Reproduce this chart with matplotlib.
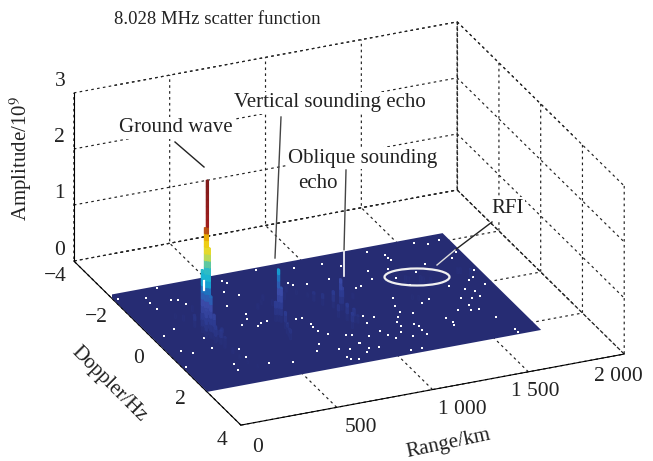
import numpy as np
import matplotlib
matplotlib.use('Agg')
import matplotlib.pyplot as plt
from matplotlib.colors import LinearSegmentedColormap
from matplotlib.lines import Line2D
from matplotlib.patches import Ellipse
from mpl_toolkits.mplot3d import proj3d

plt.rcParams['font.family'] = ['Liberation Serif', 'DejaVu Serif']
plt.rcParams['mathtext.fontset'] = 'stix'

# Ejes
range_ticks = [0, 500, 1000, 1500, 2000]
range_labels = ['0', '500', '1 000', '1 500', '2 000']
doppler_ticks = [-4, -2, 0, 2, 4]
doppler_labels = ['\u22124', '\u22122', '0', '2', '4']
amp_ticks = [0, 1, 2, 3]

# Extension de la superficie
surf_range = [2, 1743]
surf_doppler = [-2.34, 2.38]

# Picos: rango, doppler, amplitud
col_range = [253, 245, 260, 240, 262, 248, 252, 247, 234, 259, 252, 269,
             184, 209, 290, 289, 274, 295, 269, 280, 285, 295, 300, 325,
             230, 245, 262, 278, 310, 265, 285,
             624, 632, 622, 612, 607, 595, 602,
             623, 587, 648, 668, 823, 789, 859, 749, 708,
             948, 956, 925, 917, 930, 950, 890, 870, 981, 1011, 1051, 905, 965,
             1263, 1355, 1369, 1421, 1434, 1461, 1624, 1636, 1667, 1310, 1334]
col_doppler = [0, -.02, .03, -.12, -.06, -.16, .17, -.12, .12, .26, .4, .5,
               -.9, -.74, -1.06, -.23, -.45, -.07, .69, .97, 1.26, .31, 1.5, 1.75,
               -.4, -.55, -.35, -.25, -.6, .35, .55,
               0, .05, .35, -.03, .58, .84, .72,
               -.82, -.65, -.97, -.69, -.97, -1.15, -.76, -.87, -.59,
               0, .01, -.14, .85, .48, .62, -.33, -.57, -.23, -.46, -.36, .29, .67,
               -.79, -.63, -.61, -.52, -.49, -.4, -.6, -.58, -.38, .12, .19]
col_height = [2.75, 1.9, 1.55, 1.12, 1.08, 1.05, .75, .8, .5, .45, .3, .25,
              .08, .1, .1, .25, .2, .22, .1, .1, .08, .2, .06, .06,
              .2, .16, .24, .22, .14, .2, .14,
              .93, .62, .3, .35, .2, .18, .15,
              .08, .1, .1, .1, .08, .1, .08, .12, .1,
              .55, .4, .3, .28, .3, .25, .2, .16, .18, .12, .1, .22, .14,
              .08, .12, .1, .12, .1, .1, .1, .1, .14, .08, .08]

# Huecos blancos de la superficie
dots_range = [20, 151, 244, 145, 249, 285, 298, 153, 760, 937, 1079, 1152, 1043, 563, 575, 520, 574,
              843, 855, 832, 917, 903, 1148, 1031, 1119, 470, 520, 453, 516, 545, 501, 581, 662, 746,
              758, 753, 713, 757, 788, 866, 892, 887, 961, 909, 776, 509, 704, 667, 770, 67, 115, 17,
              61, 228, 216, 294, 331, 326, 241, 233, 403, 134,
              1324, 1573, 1628, 1694, 1719, 1390, 1390, 1396, 1245, 1225, 1341, 1527, 1673, 1713, 1679,
              1650, 1340, 1453, 1370, 1537, 1701, 1591, 1627, 1626, 1580, 1532, 1539, 1469, 1524, 1566,
              1392, 1343, 1260, 1233, 1208, 1206, 1176, 1147, 1145, 1120, 1211, 1226, 1223, 1225, 1152,
              1049, 1070, 1031, 1070, 1022, 1011, 1380, 1391, 1381, 1605, 1633, 1631, 891, 820, 955,
              881, 770, 817, 1082, 1141]
dots_doppler = [-2.09, -1.94, -2.25, -1.70, -1.65, -1.62, -1.37, -1.40, -2.23, -2.05, -2.00, -1.76, -1.34,
                -2.05, -1.94, -1.60, -1.35, -1.48, -1.37, -1.86, -1.27, -.77, -.79, -.59, -.76, -.99,
                -.53, -.12, .06, -.05, -.29, -.06, .15, .06, .40, .52, .08, .73, .94, 1.09, 1.15, 1.52,
                1.32, 1.81, 2.14, 1.80, 1.28, 1.54, 1.64, .51, .67, 1.21, -.23, .13, .61, .90, .88, 1.25,
                1.46, 1.70, 1.66, -.43,
                -2.13, -2.13, -2.00, -2.08, -1.47, -1.88, -1.72, -1.62, -1.36, -.98, -1.27, -1.22, -1.26,
                -.58, -.31, -.20, -.87, -.95, -.46, -.12, .08, .14, .28, .53, .56, .48, .81, .91, 1.04,
                1.04, .24, .36, .70, -.05, .29, .57, .75, .95, 1.15, 1.39, 1.19, 1.27, 1.46, 1.67, 1.66,
                1.40, 1.60, 1.21, .57, .46, .76, 1.16, 1.37, 1.52, 1.50, 2.13, 2.29, 1.53, 1.70, 1.83,
                1.96, 2.00, 2.17, 2.22, 2.20]

amp_cmap = LinearSegmentedColormap.from_list('amp', [
    (0, '#262c73'), (.1, '#2c3a90'), (.2, '#3b4ba8'), (.28, '#1f6fbe'), (.34, '#10b0d8'),
    (.44, '#35c0c0'), (.52, '#dfe03a'), (.62, '#f5c400'), (.7, '#a01c1c'), (1, '#7f1a1a')])

def px(x, y):
    # pixel de la imagen -> fraccion de figura
    return x / 653, 1 - y / 461

fig = plt.figure(figsize=(6.53, 4.61), dpi=100)
ax = fig.add_axes([16.3 / 653, .8 / 461, 1, 1], projection='3d', proj_type='ortho',
                  computed_zorder=False)
ax.view_init(elev=25.26, azim=-113.48)
ax.set_box_aspect((417.7, 419, 185.8), zoom=1.3066)
ax.set_xlim(0, 2000)
ax.set_ylim(4, -4)
ax.set_zlim(0, 3)
ax.patch.set_alpha(0)

for axis in (ax.xaxis, ax.yaxis, ax.zaxis):
    axis.set_pane_color((1, 1, 1, 0))
    axis.pane.set_edgecolor('none')
    axis._axinfo['grid'].update(color='#222222', linewidth=.85, linestyle=(0, (2.2, 2.8)))
    axis._axinfo['axisline']['color'] = '#222222'
    axis._axinfo['tick'].update(color='#222222', inward_factor=0, outward_factor=0)

ax.set_xticks(range_ticks, [''] * len(range_ticks))
ax.set_yticks(doppler_ticks, [''] * len(doppler_ticks))
ax.set_zticks(amp_ticks, [''] * len(amp_ticks))

# Bordes traseros de la caja
dash = dict(color='#222222', lw=.85, ls=(0, (2.2, 2.8)), zorder=.5)
ax.plot([0, 2000], [-4, -4], [3, 3], **dash)
ax.plot([2000, 2000], [-4, 4], [3, 3], **dash)
ax.plot([2000, 2000], [4, 4], [0, 3], **dash)
ax.plot([2000, 2000], [-4, -4], [0, 3], **dash)
ax.plot([2000, 2000], [-4, 4], [0, 0], **dash)
ax.plot([0, 2000], [-4, -4], [0, 0], **dash)

# Superficie
rr, dd = np.meshgrid(surf_range, surf_doppler)
ax.plot_surface(rr, dd, np.zeros_like(rr, dtype=float), color=amp_cmap(0), shade=False,
                linewidth=0, antialiased=True, zorder=1)

ax.scatter(dots_range, dots_doppler, 0, c='white', s=4, marker='s', linewidths=0,
           depthshade=False, zorder=2)

# Columnas divididas en bandas de color segun la amplitud
xs, ys, zs, hs, cs = [], [], [], [], []
for r, d, h in zip(col_range, col_doppler, col_height):
    edges = np.append(np.arange(0, h, .12), h)
    for z0, z1 in zip(edges[:-1], edges[1:]):
        xs.append(r)
        ys.append(d)
        zs.append(z0)
        hs.append(z1 - z0)
        cs.append(amp_cmap((z0 + z1) / 2 / 2.75))
ax.bar3d(xs, ys, zs, 10, .06, hs, color=cs, shade=False, linewidth=0, zorder=3)

# Etiquetas de las marcas, desplazadas en pixeles desde su posicion en los ejes
proj = ax.get_proj()

def tick_label(x, y, z, s, dx, dy):
    X, Y, _ = proj3d.proj_transform(x, y, z, proj)
    ax.annotate(s, (X, Y), xytext=(dx, -dy), textcoords='offset pixels', ha='center', va='center',
                fontsize=15.5, color='#222222', annotation_clip=False)

range_offsets = [(17, 22), (24, 20), (30, 20), (7, 20), (-6, 22)]
for t, s, (dx, dy) in zip(range_ticks, range_labels, range_offsets):
    tick_label(t, 4, 0, s, dx, dy)
for t, s in zip(doppler_ticks, doppler_labels):
    tick_label(0, t, 0, s, -19, 15)
for t in amp_ticks:
    tick_label(0, -4, t, str(t), -14, -11)

# Textos
def label(x, y, s, back=True, **kw):
    box = dict(facecolor='white', edgecolor='none', pad=1) if back else None
    fig.text(*px(x, y), s, ha='center', va='center', color='#222222', bbox=box, **kw)

label(217, 20, '8.028 MHz scatter function', back=False, fontsize=13.5)
label(21, 158, r'Amplitude/10$^9$', back=False, fontsize=15, rotation=90)
label(109, 384, 'Doppler/Hz', back=False, fontsize=15, rotation=-45)
label(448, 444, 'Range/km', back=False, fontsize=15, rotation=12)
label(175.5, 128, 'Ground wave', fontsize=15)
label(329.5, 103, 'Vertical sounding echo', fontsize=15)
label(363, 158, 'Oblique sounding', fontsize=15)
label(318, 183, 'echo', fontsize=15)
label(507.5, 208, 'RFI', fontsize=15)

# Lineas de referencia y elipse
def leader(x0, y0, x1, y1, color='#222222', lw=1):
    (a0, b0), (a1, b1) = px(x0, y0), px(x1, y1)
    fig.add_artist(Line2D([a0, a1], [b0, b1], color=color, lw=lw))

leader(175, 142, 204, 167)
leader(281, 117, 275, 258, color='#444444')
leader(346, 170, 344, 251, color='#444444')
leader(344, 251, 344, 276, color='white', lw=1.2)
leader(492, 222, 455, 250)
leader(455, 250, 437, 265, color='#dddddd')
leader(204, 281, 204, 290, color='white', lw=1.6)

ell_x, ell_y = px(417, 277)
fig.add_artist(Ellipse((ell_x, ell_y), 65 / 653, 17 / 461, fill=False, edgecolor='#f0f0f0',
                       lw=1.6, transform=fig.transFigure))

fig.savefig('out.png', dpi=100)
